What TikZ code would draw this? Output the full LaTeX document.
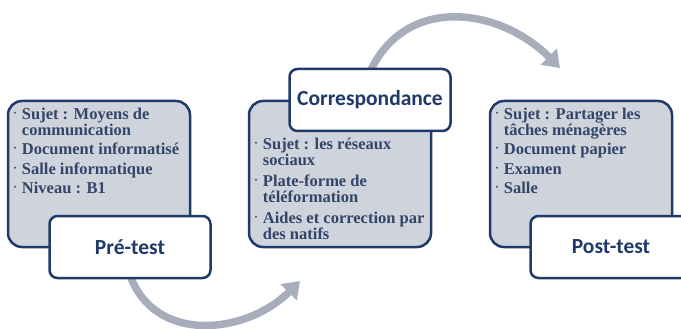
\documentclass[tikz,border=0pt]{standalone}
\usepackage{fontspec}
\setmainfont{Liberation Serif}
\newfontfamily\titlefont{Carlito}
\usetikzlibrary{positioning,arrows.meta,backgrounds}

\definecolor{navy}{HTML}{1F3A68}
\definecolor{boxgray}{HTML}{CED3DC}
\definecolor{inkblue}{HTML}{34456A}
\definecolor{arcgray}{HTML}{A7ADBB}

\tikzset{
  infobox/.style={draw=navy, fill=boxgray, line width=2.5pt, rounded corners=14pt,
    minimum width=182pt, minimum height=146pt},
  titlebox/.style={draw=navy, fill=white, line width=2.5pt, rounded corners=8pt,
    minimum width=161pt, minimum height=62pt, text=navy,
    font=\titlefont\fontsize{21.5}{24}\selectfont\bfseries},
  itemlist/.style={align=left, inner sep=0pt, text=inkblue,
    font=\fontsize{16.5}{16}\selectfont\bfseries},
  bigarc/.style={arcgray, line width=7.5pt, -{Triangle[length=16pt,width=22pt]}}
}

\newcommand{\itemdot}{\makebox[8pt][l]{\raisebox{4pt}{\fontsize{7}{7}\selectfont\textbullet}}}
\newcommand{\itemcont}{\hspace*{8pt}}

\begin{document}
\begin{tikzpicture}[x=1pt, y=1pt, node distance=241pt]
  \useasboundingbox (0,0) rectangle (681,-329);

  % the three grey panels
  \node[infobox] (box1) at (99,-174) {};
  \node[infobox, right of=box1] (box2) {};
  \node[infobox, right of=box2] (box3) {};

  % titles
  \node[titlebox, xshift=31pt, yshift=-73pt] (pre) at (box1) {Pré-test};
  \node[titlebox, xshift=30pt, yshift=74pt] (corr) at (box2) {Correspondance};
  \node[titlebox, xshift=30pt, yshift=-73pt] (post) at (box3) {Post-test};

  % contents
  \node[itemlist, anchor=north west] (list1) at ([xshift=7pt,yshift=-8pt]box1.north west)
    {\itemdot Sujet : Moyens de\\ \itemcont communication\\[3.5pt]
     \itemdot Document informatisé\\[3.5pt]
     \itemdot Salle informatique\\[3.5pt]
     \itemdot Niveau : B1};
  \node[itemlist, anchor=north west] (list2) at ([xshift=7pt,yshift=-38pt]box2.north west)
    {\itemdot Sujet : les réseaux\\ \itemcont sociaux\\[5pt]
     \itemdot Plate-forme de\\ \itemcont téléformation\\[5pt]
     \itemdot Aides et correction par\\ \itemcont des natifs};
  \node[itemlist, anchor=north west] (list3) at ([xshift=7pt,yshift=-8pt]box3.north west)
    {\itemdot Sujet : Partager les\\ \itemcont tâches ménagères\\[3.5pt]
     \itemdot Document papier\\[3.5pt]
     \itemdot Examen\\[3.5pt]
     \itemdot Salle};

  \coordinate (lowtip) at (300,-281);
  \coordinate (hightip) at (560,-68);

  \begin{scope}[on background layer]
    \draw[bigarc] ([yshift=4pt]pre.south) to[out=-70, in=-135, looseness=1.12] (lowtip);
    \draw[bigarc] ([yshift=-4pt]corr.north) to[out=65, in=135, looseness=1.15] (hightip);
  \end{scope}
\end{tikzpicture}
\end{document}
